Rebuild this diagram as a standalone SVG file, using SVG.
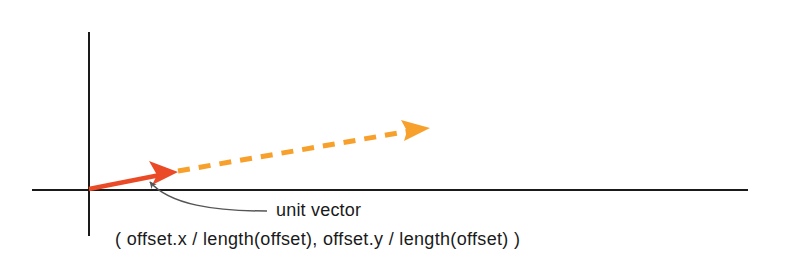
<svg xmlns="http://www.w3.org/2000/svg" width="788" height="263" viewBox="0 0 788 263">
  <style>
    .axis { stroke: #1a1a1a; stroke-width: 2; fill: none; }
    .label { font-family: "Liberation Sans", Arial, sans-serif; font-size: 18px; fill: #1a1a1a; }
  </style>
  <defs>
    <marker id="grayHead" viewBox="0 0 10 10" refX="9" refY="5" markerWidth="7" markerHeight="7" orient="auto" markerUnits="userSpaceOnUse">
      <path d="M0,0 L10,5 L0,10 L3,5 Z" fill="#555"/>
    </marker>
  </defs>
  <rect width="788" height="263" fill="#ffffff"/>
  <!-- axes -->
  <g id="axes">
    <line class="axis" x1="89" y1="32" x2="89" y2="236"/>
    <line class="axis" x1="32" y1="190" x2="748" y2="190"/>
  </g>
  <!-- dashed offset vector -->
  <g id="offset-vector">
    <line x1="178" y1="171" x2="410" y2="131" stroke="#f7a12c" stroke-width="5" stroke-dasharray="12,9"/>
    <polygon points="430,128 404,141 407,131 401,120" fill="#f7a12c"/>
  </g>
  <!-- unit vector -->
  <g id="unit-vector">
    <line x1="89" y1="189" x2="160" y2="175" stroke="#ea4a25" stroke-width="4.5"/>
    <polygon points="178,172 152,185 157,175 149,161" fill="#ea4a25"/>
  </g>
  <!-- callout -->
  <g id="connectors">
    <path d="M267,211 C215,211 170,205 150,182" fill="none" stroke="#555" stroke-width="1.5" marker-end="url(#grayHead)"/>
  </g>
  <g id="labels">
    <text class="label" x="276" y="216" textLength="85" lengthAdjust="spacing">unit vector</text>
    <text class="label" x="115" y="245" textLength="405" lengthAdjust="spacing">( offset.x / length(offset), offset.y / length(offset) )</text>
  </g>
</svg>
